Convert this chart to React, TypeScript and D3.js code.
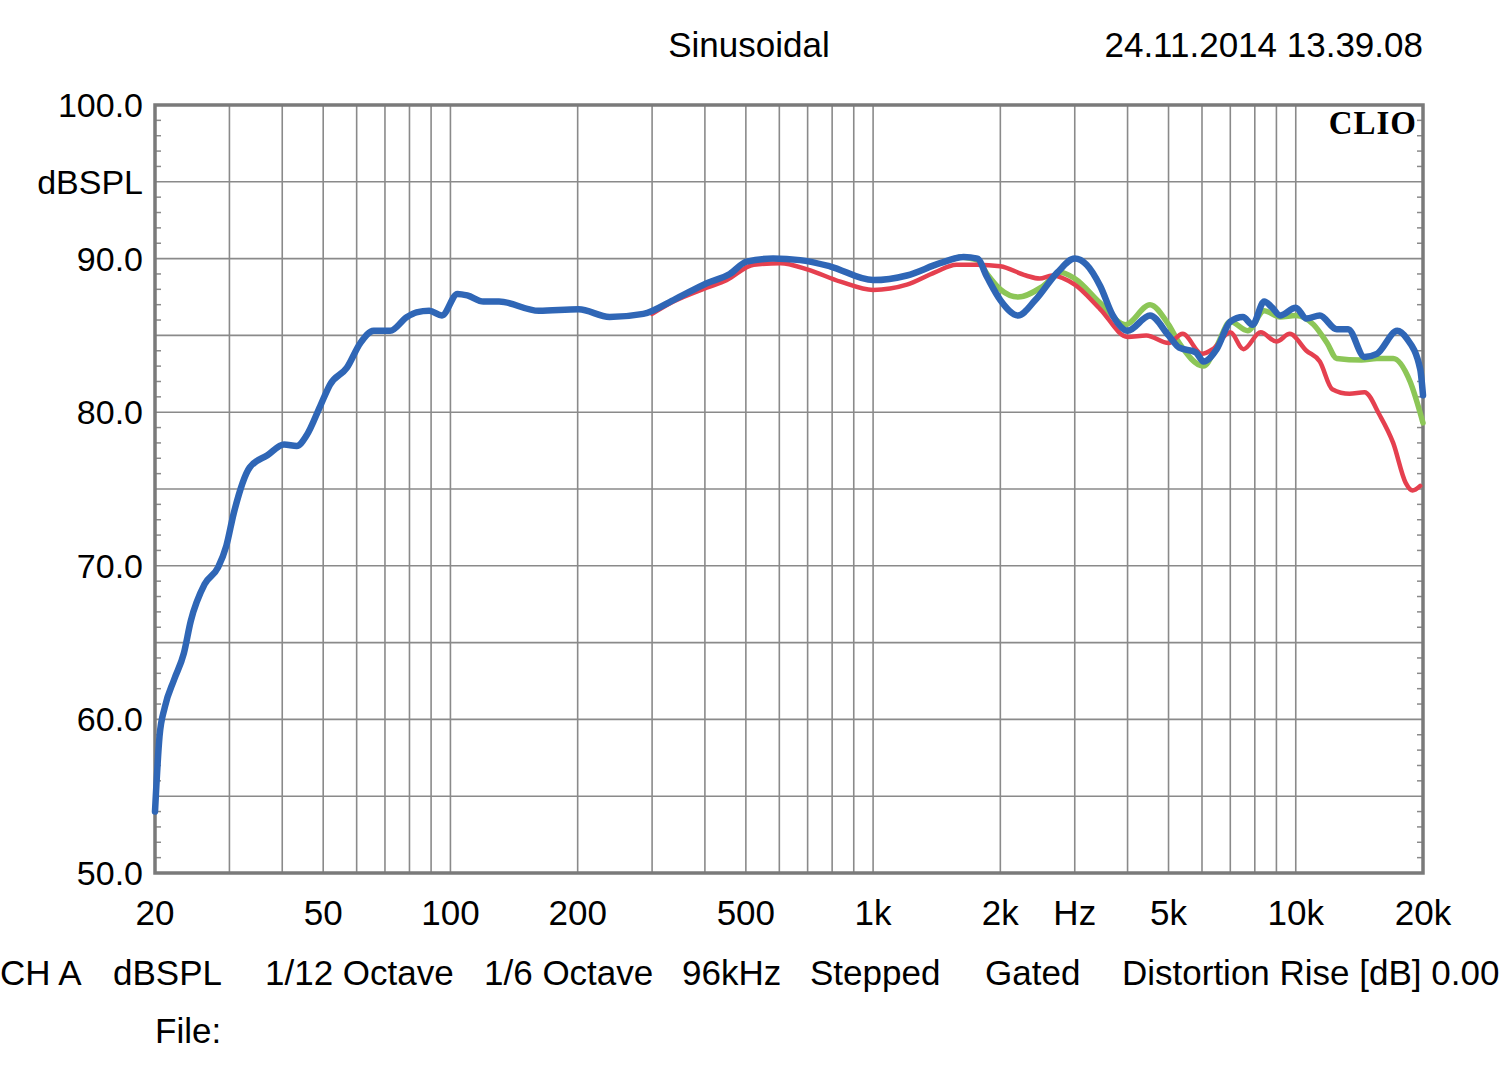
import React from "react";
import * as d3 from "d3";

const blueF = [20, 20.5, 21.1, 22.2, 23.4, 24.3, 26.2, 28.2, 29.5, 30.7, 33.5, 36.9, 40.4, 43.3, 45.7, 49.2, 51.9, 56.9, 61.2, 65.8, 72, 78.9, 83.1, 89.1, 95.5, 103.9, 109.6, 119.7, 130.3, 162, 201, 238, 286, 337, 404, 458, 502, 580, 672, 790, 1000, 1202, 1440, 1638, 1765, 1860, 2000, 2202, 2420, 2730, 3000, 3200, 3448, 3690, 4000, 4520, 5000, 5300, 5800, 6050, 6500, 7000, 7500, 7900, 8420, 8800, 9180, 10000, 10600, 11400, 12500, 13300, 14540, 15560, 17380, 18300, 19700, 20000];
const blueDb = [54, 58.9, 60.8, 62.6, 64.3, 66.4, 68.8, 69.9, 71.3, 73.4, 76.4, 77.2, 77.9, 77.8, 78.5, 80.4, 81.8, 82.9, 84.5, 85.3, 85.3, 86.2, 86.5, 86.6, 86.3, 87.7, 87.6, 87.2, 87.2, 86.6, 86.7, 86.2, 86.4, 87.3, 88.4, 89.0, 89.8, 90.0, 89.9, 89.5, 88.6, 88.9, 89.7, 90.1, 90.0, 88.8, 87.3, 86.3, 87.3, 89.1, 90.0, 89.6, 88.2, 86.3, 85.3, 86.3, 85.0, 84.2, 83.9, 83.3, 84.1, 85.9, 86.2, 85.7, 87.2, 86.8, 86.3, 86.8, 86.1, 86.3, 85.4, 85.4, 83.6, 83.8, 85.3, 84.8, 82.8, 81.1];

const redF = [300, 337, 404, 450, 522, 604, 698, 837, 1000, 1202, 1400, 1574, 1765, 2000, 2300, 2478, 2650, 3000, 3448, 4000, 4430, 5000, 5400, 6000, 6360, 7000, 7520, 8260, 9000, 9680, 10600, 11400, 12200, 13400, 14540, 15800, 17000, 18200, 18900, 19700];
const redDb = [86.4, 87.2, 88.1, 88.6, 89.6, 89.7, 89.3, 88.5, 87.96, 88.3, 89.1, 89.6, 89.6, 89.5, 88.9, 88.7, 88.9, 88.3, 86.7, 84.9, 85.0, 84.5, 85.1, 83.8, 84.1, 85.2, 84.1, 85.2, 84.6, 85.1, 84.0, 83.3, 81.5, 81.2, 81.3, 79.8, 78.0, 75.4, 74.9, 75.2];

const greenF = [1602, 1765, 1860, 2000, 2202, 2520, 2780, 3000, 3448, 3950, 4520, 5000, 5300, 6050, 6500, 7000, 7700, 8420, 9180, 10000, 11020, 11860, 12500, 14300, 15560, 17000, 18640, 20000];
const greenDb = [90.1, 89.9, 89.0, 88.0, 87.5, 88.2, 89.1, 88.7, 87.1, 85.7, 87.0, 85.7, 84.5, 83.0, 84.3, 85.9, 85.3, 86.6, 86.2, 86.3, 85.7, 84.5, 83.5, 83.4, 83.5, 83.5, 82.0, 79.3];

const xTickValues = [20, 50, 100, 200, 500, 1000, 2000, 5000, 10000, 20000];
const xTickLabels = ["20", "50", "100", "200", "500", "1k", "2k", "5k", "10k", "20k"];
const yTickValues = [100, 90, 80, 70, 60, 50];
const footerLabels = ["CH A", "dBSPL", "1/12 Octave", "1/6 Octave", "96kHz", "Stepped", "Gated", "Distortion Rise [dB] 0.00"];
const footerX = [0, 113, 265, 484, 682, 810, 985, 1122];

const L = 155, R = 1423, T = 105, B = 873;

export default function App() {
  const x = d3.scaleLog().domain([20, 20000]).range([L, R]);
  const y = d3.scaleLinear().domain([50, 100]).range([B, T]);
  const line = d3
    .line<[number, number]>()
    .x((d) => x(d[0]))
    .y((d) => y(d[1]))
    .curve(d3.curveMonotoneX);
  const pts = (f: number[], v: number[]) => f.map((ff, i) => [ff, v[i]] as [number, number]);

  const vGrid: number[] = [];
  for (let dec = 10; dec <= 10000; dec *= 10) {
    for (let m = 1; m <= 9; m++) {
      const f = dec * m;
      if (f > 20 && f < 20000) vGrid.push(f);
    }
  }
  const hGrid = d3.range(55, 100, 5);
  const minor = d3.range(51, 100, 1).filter((v) => v % 5 !== 0);

  const font = "'Liberation Sans', Arial, sans-serif";
  const gridColor = "#8a8a8a";
  const fs = 35;

  return (
    <svg width={1500} height={1074} style={{ position: "absolute", left: 0, top: 0, background: "#fff" }}>
      <rect x={0} y={0} width={1500} height={1074} fill="#fff" />
      {vGrid.map((f) => (
        <line key={"v" + f} x1={x(f)} x2={x(f)} y1={T} y2={B} stroke={gridColor} strokeWidth={1.6} />
      ))}
      {hGrid.map((v) => (
        <line key={"h" + v} x1={L} x2={R} y1={y(v)} y2={y(v)} stroke={gridColor} strokeWidth={1.6} />
      ))}
      {minor.map((v) => (
        <g key={"m" + v}>
          <line x1={L} x2={L + 6} y1={y(v)} y2={y(v)} stroke={gridColor} strokeWidth={1.5} />
          <line x1={R - 6} x2={R} y1={y(v)} y2={y(v)} stroke={gridColor} strokeWidth={1.5} />
        </g>
      ))}
      <rect x={L} y={T} width={R - L} height={B - T} fill="none" stroke="#7a7a7a" strokeWidth={3.5} />

      <path d={line(pts(greenF, greenDb)) || ""} fill="none" stroke="#8cc657" strokeWidth={5.5} strokeLinejoin="round" strokeLinecap="round" />
      <path d={line(pts(redF, redDb)) || ""} fill="none" stroke="#e5404f" strokeWidth={4.5} strokeLinejoin="round" strokeLinecap="round" />
      <path d={line(pts(blueF, blueDb)) || ""} fill="none" stroke="#2f66b6" strokeWidth={6.5} strokeLinejoin="round" strokeLinecap="round" />

      <text x={1417} y={134} textAnchor="end" fontFamily="'Liberation Serif', 'Times New Roman', serif" fontWeight="bold" fontSize={33} letterSpacing={1}>CLIO</text>

      <text x={749} y={57} textAnchor="middle" fontFamily={font} fontSize={fs}>Sinusoidal</text>
      <text x={1423} y={57} textAnchor="end" fontFamily={font} fontSize={fs}>24.11.2014 13.39.08</text>

      {yTickValues.map((v) => (
        <text key={"yl" + v} x={143} y={y(v) + 12} textAnchor="end" fontFamily={font} fontSize={34}>{v.toFixed(1)}</text>
      ))}
      <text x={143} y={y(95) + 12} textAnchor="end" fontFamily={font} fontSize={34}>dBSPL</text>

      {xTickValues.map((f, i) => (
        <text key={"xl" + f} x={x(f)} y={925} textAnchor="middle" fontFamily={font} fontSize={fs}>{xTickLabels[i]}</text>
      ))}
      <text x={x(3000)} y={925} textAnchor="middle" fontFamily={font} fontSize={fs}>Hz</text>

      {footerLabels.map((t, i) => (
        <text key={"f" + i} x={footerX[i]} y={985} fontFamily={font} fontSize={fs}>{t}</text>
      ))}
      <text x={155} y={1043} fontFamily={font} fontSize={fs}>File:</text>
    </svg>
  );
}
